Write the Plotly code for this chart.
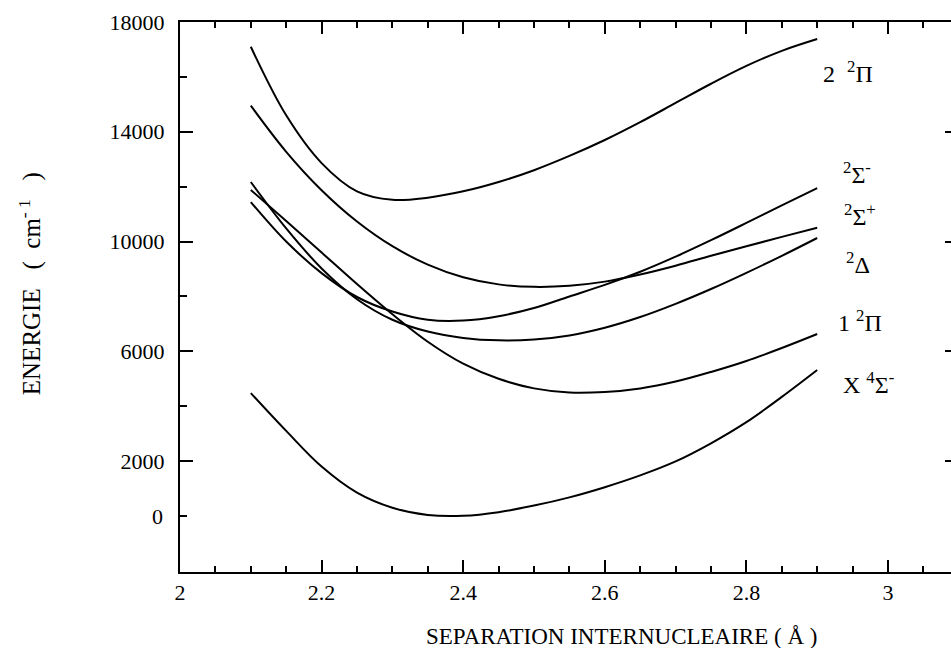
import plotly.graph_objects as go

r_sep = [2.10, 2.15, 2.20, 2.25, 2.30, 2.35, 2.40, 2.45, 2.50, 2.55, 2.60, 2.65, 2.70, 2.75, 2.80, 2.85, 2.90]

e_X4Sigm = [4480, 3100, 1800, 850, 300, 40, 10, 140, 380, 680, 1050, 1480, 1990, 2650, 3420, 4340, 5320]
e_1_2Pi = [11880, 10750, 9600, 8450, 7350, 6350, 5550, 5000, 4650, 4500, 4520, 4650, 4900, 5250, 5650, 6120, 6630]
e_2Delta = [12170, 10480, 9020, 7900, 7150, 6720, 6490, 6400, 6430, 6580, 6860, 7250, 7730, 8270, 8860, 9480, 10130]
e_2Sigp = [14950, 13270, 11870, 10730, 9830, 9160, 8700, 8440, 8350, 8390, 8540, 8800, 9120, 9480, 9830, 10170, 10500]
e_2Sigm = [11440, 10000, 8850, 7980, 7450, 7150, 7120, 7280, 7580, 8000, 8420, 8900, 9450, 10050, 10680, 11320, 11950]
e_2_2Pi = [17100, 14600, 12860, 11830, 11520, 11600, 11830, 12170, 12600, 13120, 13700, 14350, 15050, 15750, 16400, 16950, 17380]

curves = [e_X4Sigm, e_1_2Pi, e_2Delta, e_2Sigp, e_2Sigm, e_2_2Pi]

NB = "\u00a0"
state_labels = ["X" + NB + "<sup>4</sup>Σ<sup>-</sup>", "1" + NB + "<sup>2</sup>Π", "<sup>2</sup>Δ",
                "<sup>2</sup>Σ<sup>+</sup>", "<sup>2</sup>Σ<sup>-</sup>", "2" + NB + NB + "<sup>2</sup>Π"]
label_x = [2.972, 2.960, 2.958, 2.960, 2.956, 2.944]
label_y = [4850, 7100, 9220, 10970, 12500, 16180]

y_major = [2000, 6000, 10000, 14000, 18000]
y_major_text = ["2000", "6000", "10000", "14000", "18000"]
y_minor = [0, 4000, 8000, 12000, 16000]
x_major = [2, 2.2, 2.4, 2.6, 2.8, 3]
x_major_text = ["2", "2.2", "2.4", "2.6", "2.8", "3"]

FONT = "Liberation Serif, Times New Roman, serif"

fig = go.Figure()
for c in curves:
    fig.add_trace(go.Scatter(x=r_sep, y=c, mode="lines",
                             line=dict(color="black", width=2, shape="spline", smoothing=1.0),
                             showlegend=False, hoverinfo="skip"))
# invisible trace to register the right-hand tick axis
fig.add_trace(go.Scatter(x=r_sep, y=e_X4Sigm, mode="lines", line=dict(color="rgba(0,0,0,0)"), xaxis="x", yaxis="y2",
                         showlegend=False, hoverinfo="skip"))

for t, lx, ly in zip(state_labels, label_x, label_y):
    fig.add_annotation(x=lx, y=ly, xref="x", yref="y", text=t, showarrow=False,
                       font=dict(family=FONT, size=24, color="black"), xanchor="center", yanchor="middle")

fig.add_annotation(x=0, y=0, xref="paper", yref="y", text="0", showarrow=False, xanchor="right", yanchor="middle",
                   xshift=-15, font=dict(family=FONT, size=22, color="black"))
fig.add_annotation(x=-0.1946, y=0.525, xref="paper", yref="paper",
                   text="ENERGIE" + NB * 3 + "(" + NB * 2 + "cm<sup>-" + NB + "1</sup>" + NB * 3 + ")",
                   textangle=-90, showarrow=False, xanchor="center", yanchor="middle",
                   font=dict(family=FONT, size=25, color="black"))
fig.add_annotation(x=0.573, y=-0.118, xref="paper", yref="paper", text="SEPARATION INTERNUCLEAIRE ( Å )",
                   showarrow=False, xanchor="center", yanchor="middle", font=dict(family=FONT, size=23, color="black"))

yr = [-2040, 18000]
fig.update_layout(
    width=951, height=648,
    margin=dict(l=180, r=0, t=22, b=76),
    paper_bgcolor="white", plot_bgcolor="white",
    xaxis=dict(range=[2, 2 + 771 / 708], tickmode="array", tickvals=x_major, ticktext=x_major_text,
               ticks="inside", ticklen=12, tickwidth=1.5, tickcolor="black",
               showline=True, linecolor="black", linewidth=2, mirror="ticks", showgrid=False, zeroline=False,
               tickfont=dict(family=FONT, size=22, color="black"),
               minor=dict(tickmode="linear", tick0=2, dtick=0.05, ticks="inside", ticklen=6, tickcolor="black", showgrid=False)),
    yaxis=dict(range=yr, tickmode="array", tickvals=y_major, ticktext=y_major_text,
               ticks="inside", ticklen=13, tickwidth=1.5, tickcolor="black",
               showline=True, linecolor="black", linewidth=2, mirror=False, showgrid=False, zeroline=False,
               tickfont=dict(family=FONT, size=22, color="black"), ticklabelstandoff=9,
               minor=dict(tickmode="array", tickvals=y_minor, ticks="inside", ticklen=7, tickcolor="black", showgrid=False)),
    yaxis2=dict(range=yr, overlaying="y", side="right", tickmode="array", tickvals=y_major, showticklabels=False,
                ticks="inside", ticklen=6, tickwidth=1.5, tickcolor="black", showline=False, showgrid=False, zeroline=False),
)

fig.write_html("out.html")
